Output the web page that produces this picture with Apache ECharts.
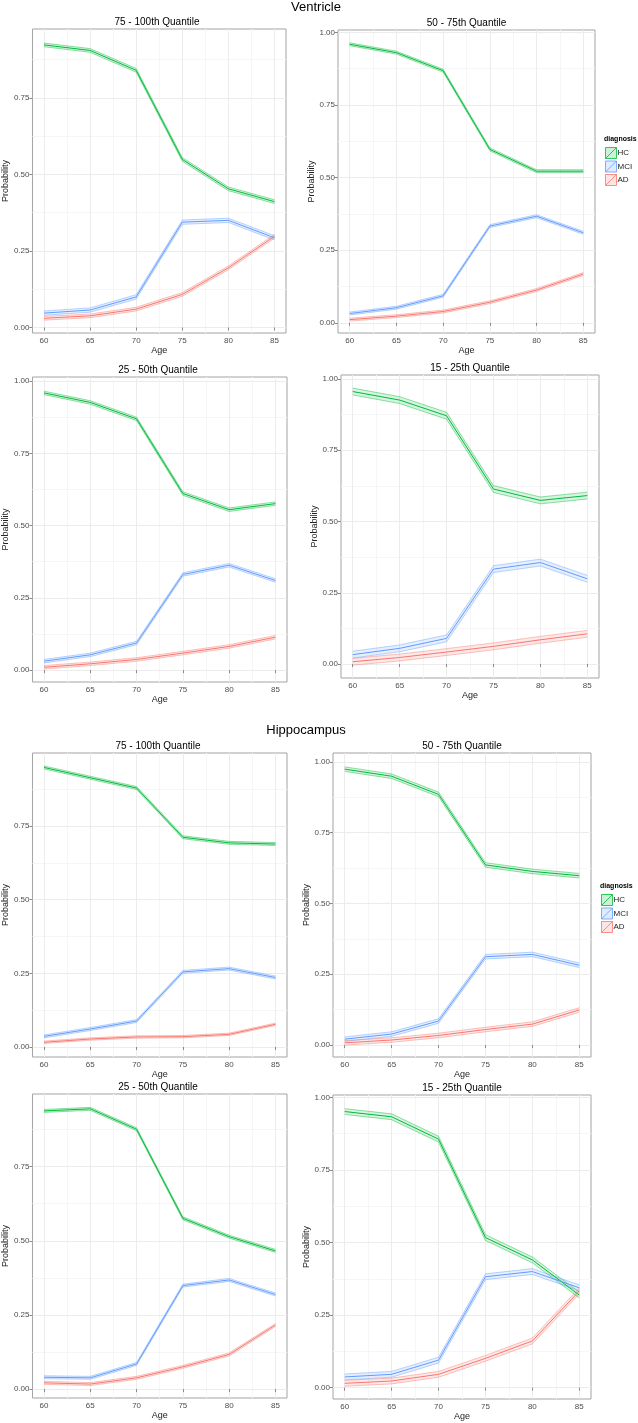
<!DOCTYPE html>
<html>
<head>
<meta charset="utf-8">
<script src="https://cdn.jsdelivr.net/npm/echarts@6/dist/echarts.min.js"></script>
<style>html,body{margin:0;padding:0;background:#fff}#c{width:638px;height:1423px}</style>
</head>
<body>
<div id="c"></div>
<script>
// ---------- data ----------
const ages = [60, 65, 70, 75, 80, 85];
const xTicks = [60, 65, 70, 75, 80, 85];
const xMinorTicks = [62.5, 67.5, 72.5, 77.5, 82.5];
const yTicks = [0, 0.25, 0.5, 0.75, 1.0];
const yMinorTicks = [0.125, 0.375, 0.625, 0.875];
const groupTitles = ['Ventricle', 'Hippocampus'];
const panelTitles = ['75 - 100th Quantile', '50 - 75th Quantile', '25 - 50th Quantile', '15 - 25th Quantile',
                     '75 - 100th Quantile', '50 - 75th Quantile', '25 - 50th Quantile', '15 - 25th Quantile'];
const diagnoses = ['HC', 'MCI', 'AD'];

// Ventricle 75-100
const vent_q75_HC  = [0.923, 0.905, 0.840, 0.549, 0.453, 0.411];
const vent_q75_MCI = [0.047, 0.057, 0.100, 0.344, 0.350, 0.293];
const vent_q75_AD  = [0.030, 0.038, 0.060, 0.108, 0.195, 0.298];
const vent_q75_hw  = [0.006, 0.007, 0.006];
// Ventricle 50-75
const vent_q50_HC  = [0.959, 0.930, 0.868, 0.597, 0.522, 0.522];
const vent_q50_MCI = [0.032, 0.052, 0.093, 0.333, 0.367, 0.310];
const vent_q50_AD  = [0.011, 0.023, 0.039, 0.071, 0.113, 0.168];
const vent_q50_hw  = [0.005, 0.005, 0.005];
// Ventricle 25-50
const vent_q25_HC  = [0.959, 0.926, 0.869, 0.611, 0.555, 0.576];
const vent_q25_MCI = [0.031, 0.053, 0.094, 0.331, 0.363, 0.310];
const vent_q25_AD  = [0.010, 0.022, 0.037, 0.059, 0.082, 0.114];
const vent_q25_hw  = [0.006, 0.006, 0.006];
// Ventricle 15-25
const vent_q15_HC  = [0.956, 0.926, 0.871, 0.614, 0.574, 0.591];
const vent_q15_MCI = [0.033, 0.055, 0.090, 0.333, 0.356, 0.299];
const vent_q15_AD  = [0.008, 0.023, 0.042, 0.062, 0.085, 0.106];
const vent_q15_hw  = [0.012, 0.012, 0.012];
// Hippocampus 75-100
const hipp_q75_HC  = [0.949, 0.914, 0.879, 0.712, 0.693, 0.689];
const hipp_q75_MCI = [0.036, 0.061, 0.088, 0.255, 0.266, 0.236];
const hipp_q75_AD  = [0.016, 0.027, 0.034, 0.035, 0.043, 0.077];
const hipp_q75_hw  = [0.005, 0.005, 0.004];
// Hippocampus 50-75
const hipp_q50_HC  = [0.974, 0.949, 0.885, 0.636, 0.613, 0.598];
const hipp_q50_MCI = [0.021, 0.039, 0.085, 0.312, 0.320, 0.282];
const hipp_q50_AD  = [0.008, 0.018, 0.034, 0.055, 0.074, 0.124];
const hipp_q50_hw  = [0.008, 0.008, 0.008];
// Hippocampus 25-50
const hipp_q25_HC  = [0.938, 0.945, 0.876, 0.576, 0.514, 0.466];
const hipp_q25_MCI = [0.040, 0.038, 0.085, 0.349, 0.368, 0.319];
const hipp_q25_AD  = [0.021, 0.017, 0.038, 0.075, 0.117, 0.216];
const hipp_q25_hw  = [0.005, 0.005, 0.005];
// Hippocampus 15-25
const hipp_q15_HC  = [0.951, 0.933, 0.856, 0.517, 0.440, 0.319];
const hipp_q15_MCI = [0.037, 0.046, 0.095, 0.382, 0.400, 0.344];
const hipp_q15_AD  = [0.015, 0.023, 0.046, 0.101, 0.161, 0.333];
const hipp_q15_hw  = [0.010, 0.010, 0.010];

// ---------- layout / style ----------
const FONT = 'Liberation Sans, Arial, sans-serif';
const colors = {HC: '#00BA38', MCI: '#619CFF', AD: '#F8766D'};
const rgba = {HC: [0,186,56], MCI: [97,156,255], AD: [248,118,109]};
const fillOf = (d, a) => 'rgba(' + rgba[d].join(',') + ',' + a + ')';

const panels = [
  {series: [vent_q75_HC, vent_q75_MCI, vent_q75_AD], hw: vent_q75_hw, box: {left: 28, top: 29, width: 258, height: 304}, y: [-0.018, 0.975]},
  {series: [vent_q50_HC, vent_q50_MCI, vent_q50_AD], hw: vent_q50_hw, box: {left: 338, top: 30, width: 257, height: 303}, y: [-0.035, 1.008]},
  {series: [vent_q25_HC, vent_q25_MCI, vent_q25_AD], hw: vent_q25_hw, box: {left: 29, top: 377, width: 258, height: 305}, y: [-0.041, 1.014]},
  {series: [vent_q15_HC, vent_q15_MCI, vent_q15_AD], hw: vent_q15_hw, box: {left: 341, top: 375, width: 258, height: 303}, y: [-0.049, 1.014]},
  {series: [hipp_q75_HC, hipp_q75_MCI, hipp_q75_AD], hw: hipp_q75_hw, box: {left: 29, top: 753, width: 258, height: 304}, y: [-0.034, 0.998]},
  {series: [hipp_q50_HC, hipp_q50_MCI, hipp_q50_AD], hw: hipp_q50_hw, box: {left: 333, top: 753, width: 258, height: 304}, y: [-0.042, 1.031]},
  {series: [hipp_q25_HC, hipp_q25_MCI, hipp_q25_AD], hw: hipp_q25_hw, box: {left: 29, top: 1094, width: 258, height: 304}, y: [-0.030, 0.995]},
  {series: [hipp_q15_HC, hipp_q15_MCI, hipp_q15_AD], hw: hipp_q15_hw, box: {left: 333, top: 1095, width: 258, height: 304}, y: [-0.039, 1.008]}
];

const grid = [], xAxis = [], yAxis = [], series = [], title = [];

title.push({text: groupTitles[0], left: 316, top: 1, textAlign: 'center', padding: 0,
  textStyle: {fontFamily: FONT, fontSize: 13, fontWeight: 'normal', color: '#000'}});
title.push({text: groupTitles[1], left: 306, top: 724, textAlign: 'center', padding: 0,
  textStyle: {fontFamily: FONT, fontSize: 13, fontWeight: 'normal', color: '#000'}});

panels.forEach((p, pi) => {
  grid.push(Object.assign({show: true, borderColor: '#a3a3a3', borderWidth: 1, backgroundColor: '#fff'}, p.box));
  title.push({text: panelTitles[pi], left: p.box.left + p.box.width / 2, top: p.box.top - 12, textAlign: 'center', padding: 0,
    textStyle: {fontFamily: FONT, fontSize: 10, fontWeight: 'normal', color: '#000'}});
  const yT = yTicks.filter(v => v >= p.y[0] && v <= p.y[1]);
  const yM = yMinorTicks.filter(v => v >= p.y[0] && v <= p.y[1]);
  // major x
  xAxis.push({gridIndex: pi, type: 'value', min: 58.75, max: 86.25,
    axisLine: {show: false},
    axisTick: {show: true, length: 3, lineStyle: {color: '#8a8a8a'}, customValues: xTicks},
    axisLabel: {customValues: xTicks, fontSize: 8, color: '#4d4d4d', margin: 4, fontFamily: FONT},
    splitLine: {show: true, lineStyle: {color: '#ececec', width: 1}},
    name: 'Age', nameLocation: 'middle', nameGap: 13,
    nameTextStyle: {fontSize: 9, color: '#222', fontFamily: FONT}, z: 1});
  // minor x
  xAxis.push({gridIndex: pi, type: 'value', min: 58.75, max: 86.25, position: 'bottom',
    axisLine: {show: false}, axisLabel: {show: false},
    axisTick: {show: false, customValues: xMinorTicks},
    splitLine: {show: true, lineStyle: {color: '#f6f6f6', width: 1}}, z: 0});
  yAxis.push({gridIndex: pi, type: 'value', min: p.y[0], max: p.y[1],
    axisLine: {show: false},
    axisTick: {show: true, length: 3, lineStyle: {color: '#8a8a8a'}, customValues: yT},
    axisLabel: {customValues: yT, fontSize: 8, color: '#4d4d4d', margin: 3, fontFamily: FONT,
      formatter: v => v.toFixed(2)},
    splitLine: {show: true, lineStyle: {color: '#ececec', width: 1}},
    name: 'Probability', nameLocation: 'middle', nameGap: 18, nameRotate: 90,
    nameTextStyle: {fontSize: 9, color: '#222', fontFamily: FONT}, z: 1});
  yAxis.push({gridIndex: pi, type: 'value', min: p.y[0], max: p.y[1], position: 'left',
    axisLine: {show: false}, axisLabel: {show: false},
    axisTick: {show: false, customValues: yM},
    splitLine: {show: true, lineStyle: {color: '#f6f6f6', width: 1}}, z: 0});

  diagnoses.forEach((d, di) => {
    const mid = p.series[di];
    const hw = p.hw[di];
    const upper = mid.map(v => v + hw);
    const lower = mid.map(v => v - hw);
    const common = {xAxisIndex: 2 * pi, yAxisIndex: 2 * pi, silent: true, animation: false};
    series.push(Object.assign({name: d, type: 'custom', data: [[ages[0], mid[0]]], z: 2,
      renderItem: (params, api) => {
        const up = ages.map((a, i) => api.coord([a, upper[i]]));
        const lo = ages.map((a, i) => api.coord([a, lower[i]])).reverse();
        return {type: 'polygon', shape: {points: up.concat(lo)},
          style: {fill: fillOf(d, 0.16), stroke: null}};
      }}, common));
    [upper, lower].forEach(arr => {
      series.push(Object.assign({name: d, type: 'line', symbol: 'none', z: 3,
        data: ages.map((a, i) => [a, arr[i]]),
        lineStyle: {color: fillOf(d, 0.55), width: 0.8}}, common));
    });
    series.push(Object.assign({name: d, type: 'line', symbol: 'none', z: 4,
      data: ages.map((a, i) => [a, mid[i]]),
      lineStyle: {color: colors[d], width: 1}}, common));
  });
});

// legends
const legendIcon = 'path://M0,0L12,0L12,12L0,12ZM0,12L12,0';
const legendData = diagnoses.map(d => ({name: d, icon: legendIcon,
  itemStyle: {color: fillOf(d, 0.2), borderColor: fillOf(d, 0.8), borderWidth: 1}}));
const legendCommon = {orient: 'vertical', itemWidth: 11, itemHeight: 11, itemGap: 1.5, padding: 0,
  selectedMode: false, data: legendData,
  textStyle: {fontSize: 8, color: '#222', fontFamily: FONT, padding: [0, 0, 0, -4]}};
const legend = [
  Object.assign({left: 605, top: 147}, legendCommon),
  Object.assign({left: 601, top: 894}, legendCommon)
];
title.push({text: 'diagnosis', left: 604, top: 136, padding: 0,
  textStyle: {fontFamily: FONT, fontSize: 7, fontWeight: 'bold', color: '#000'}});
title.push({text: 'diagnosis', left: 600, top: 883, padding: 0,
  textStyle: {fontFamily: FONT, fontSize: 7, fontWeight: 'bold', color: '#000'}});

const chart = echarts.init(document.getElementById('c'), null, {renderer: 'canvas'});
chart.setOption({animation: false, backgroundColor: '#fff', title, grid, xAxis, yAxis, series, legend, tooltip: {show: false}});
</script>
</body>
</html>
